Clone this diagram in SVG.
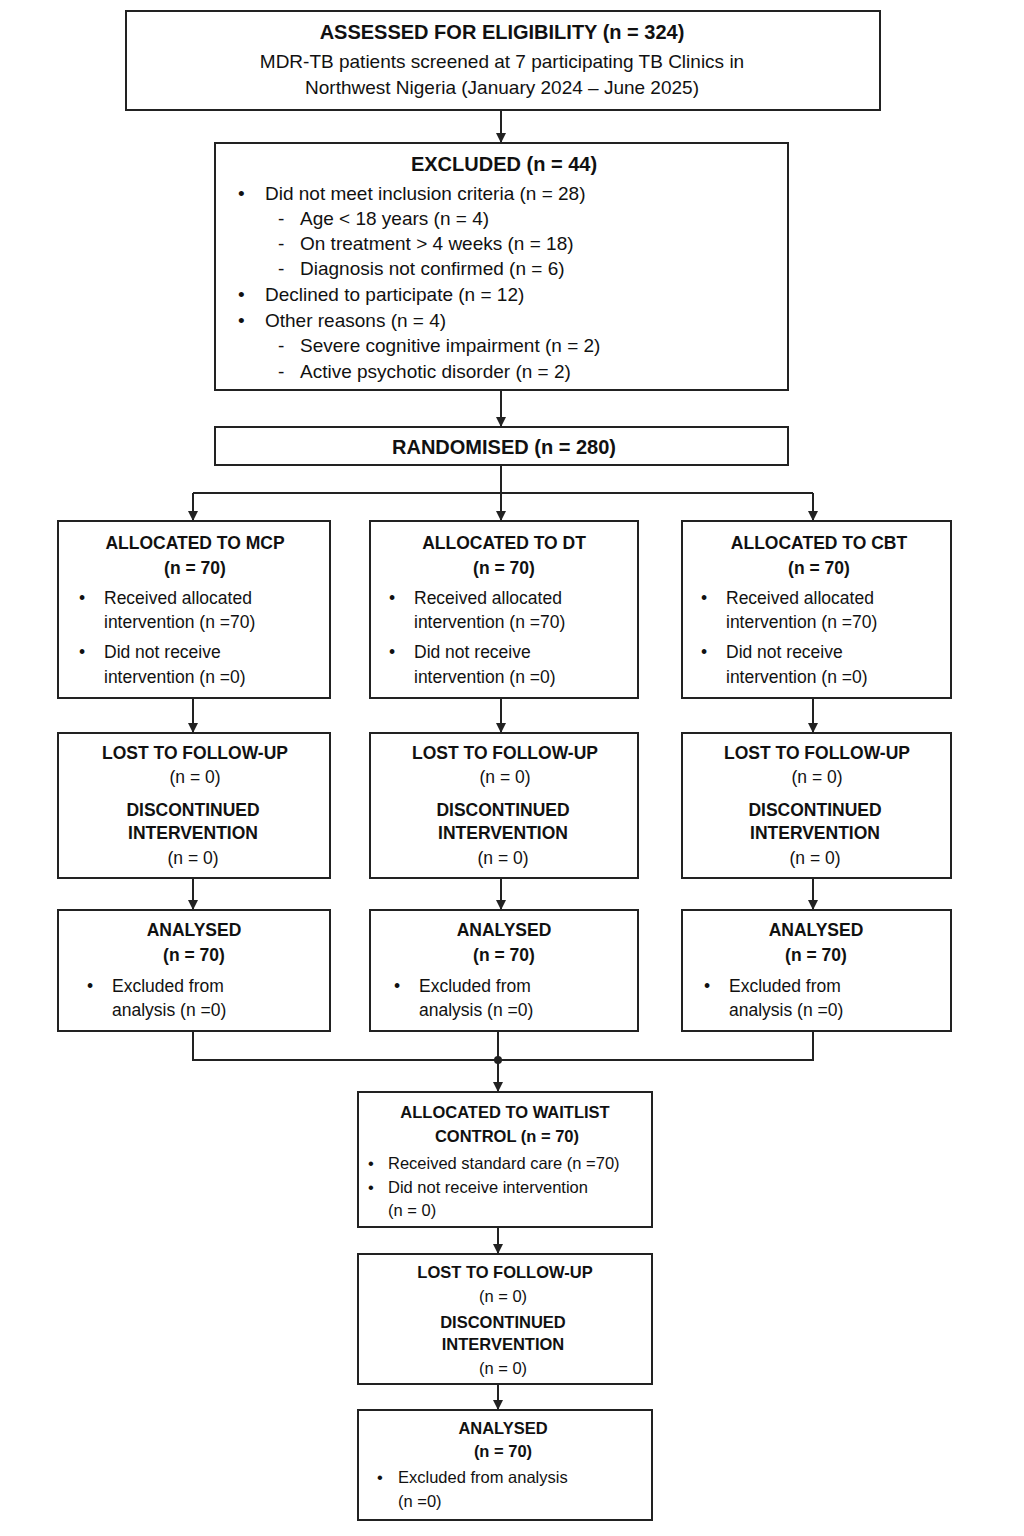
<svg xmlns="http://www.w3.org/2000/svg" width="1024" height="1536" viewBox="0 0 1024 1536">
<style>
text{font-family:"Liberation Sans",Arial,sans-serif;fill:#111}
.b{font-weight:bold}
.t{font-size:20px;font-weight:bold}
.m{font-size:19px}
.s{font-size:17.5px}
.w{font-size:16.5px}
.c{text-anchor:middle}
rect{fill:#fff;stroke:#222;stroke-width:2}
.e line,.e path{stroke:#222;stroke-width:2;fill:none}
</style>
<defs><marker id="a" markerWidth="10" markerHeight="10" refX="9" refY="5" orient="auto" markerUnits="userSpaceOnUse"><path d="M0,0L10,5L0,10z" fill="#222"/></marker></defs>
<rect width="1024" height="1536" style="fill:#fff;stroke:none"/>
<g class="e">
<line x1="501" y1="110" x2="501" y2="142" marker-end="url(#a)"/>
<line x1="501" y1="390" x2="501" y2="426" marker-end="url(#a)"/>
<line x1="501" y1="465" x2="501" y2="493"/>
<line x1="193" y1="493" x2="813" y2="493"/>
<line x1="193" y1="493" x2="193" y2="520" marker-end="url(#a)"/>
<line x1="501" y1="493" x2="501" y2="520" marker-end="url(#a)"/>
<line x1="813" y1="493" x2="813" y2="520" marker-end="url(#a)"/>
<line x1="193" y1="698" x2="193" y2="732" marker-end="url(#a)"/>
<line x1="501" y1="698" x2="501" y2="732" marker-end="url(#a)"/>
<line x1="813" y1="698" x2="813" y2="732" marker-end="url(#a)"/>
<line x1="193" y1="878" x2="193" y2="909" marker-end="url(#a)"/>
<line x1="501" y1="878" x2="501" y2="909" marker-end="url(#a)"/>
<line x1="813" y1="878" x2="813" y2="909" marker-end="url(#a)"/>
<path d="M193,1031V1060H813V1031"/>
<line x1="498" y1="1031" x2="498" y2="1060"/>
<circle cx="498" cy="1060" r="4" fill="#222"/>
<line x1="498" y1="1060" x2="498" y2="1091" marker-end="url(#a)"/>
<line x1="498" y1="1227" x2="498" y2="1253" marker-end="url(#a)"/>
<line x1="498" y1="1384" x2="498" y2="1409" marker-end="url(#a)"/>
</g>
<g id="assessed"><rect x="126" y="11" width="754" height="99"/>
<text class="t c" x="502" y="39">ASSESSED FOR ELIGIBILITY (n = 324)</text>
<text class="m c" x="502" y="68">MDR-TB patients screened at 7 participating TB Clinics in</text>
<text class="m c" x="502" y="94">Northwest Nigeria (January 2024 – June 2025)</text></g>
<g id="excluded"><rect x="215" y="143" width="573" height="247"/>
<text class="t c" x="504" y="171">EXCLUDED (n = 44)</text>
<g class="m">
<text x="238" y="200">•</text><text x="265" y="200">Did not meet inclusion criteria (n = 28)</text>
<text x="278" y="225">-</text><text x="300" y="225">Age &lt; 18 years (n = 4)</text>
<text x="278" y="250">-</text><text x="300" y="250">On treatment &gt; 4 weeks (n = 18)</text>
<text x="278" y="275">-</text><text x="300" y="275">Diagnosis not confirmed (n = 6)</text>
<text x="238" y="301">•</text><text x="265" y="301">Declined to participate (n = 12)</text>
<text x="238" y="327">•</text><text x="265" y="327">Other reasons (n = 4)</text>
<text x="278" y="352">-</text><text x="300" y="352">Severe cognitive impairment (n = 2)</text>
<text x="278" y="378">-</text><text x="300" y="378">Active psychotic disorder (n = 2)</text></g></g>
<g id="randomised"><rect x="215" y="427" width="573" height="38"/>
<text class="t c" x="504" y="454">RANDOMISED (n = 280)</text></g>
<g id="alloc-mcp"><rect x="58" y="521" width="272" height="177"/>
<text class="s b c" x="195" y="549">ALLOCATED TO MCP</text><text class="s b c" x="195" y="574">(n = 70)</text>
<g class="s"><text x="79" y="604">•</text><text x="104" y="604">Received allocated</text><text x="104" y="628">intervention (n =70)</text>
<text x="79" y="658">•</text><text x="104" y="658">Did not receive</text><text x="104" y="683">intervention (n =0)</text></g></g>
<g id="alloc-dt"><rect x="370" y="521" width="268" height="177"/>
<text class="s b c" x="504" y="549">ALLOCATED TO DT</text><text class="s b c" x="504" y="574">(n = 70)</text>
<g class="s"><text x="389" y="604">•</text><text x="414" y="604">Received allocated</text><text x="414" y="628">intervention (n =70)</text>
<text x="389" y="658">•</text><text x="414" y="658">Did not receive</text><text x="414" y="683">intervention (n =0)</text></g></g>
<g id="alloc-cbt"><rect x="682" y="521" width="269" height="177"/>
<text class="s b c" x="819" y="549">ALLOCATED TO CBT</text><text class="s b c" x="819" y="574">(n = 70)</text>
<g class="s"><text x="701" y="604">•</text><text x="726" y="604">Received allocated</text><text x="726" y="628">intervention (n =70)</text>
<text x="701" y="658">•</text><text x="726" y="658">Did not receive</text><text x="726" y="683">intervention (n =0)</text></g></g>
<g id="lost-mcp"><rect x="58" y="733" width="272" height="145"/>
<g class="s c"><text class="b" x="195" y="759">LOST TO FOLLOW-UP</text><text x="195" y="783">(n = 0)</text><text class="b" x="193" y="816">DISCONTINUED</text><text class="b" x="193" y="839">INTERVENTION</text><text x="193" y="864">(n = 0)</text></g></g>
<g id="lost-dt"><rect x="370" y="733" width="268" height="145"/>
<g class="s c"><text class="b" x="505" y="759">LOST TO FOLLOW-UP</text><text x="505" y="783">(n = 0)</text><text class="b" x="503" y="816">DISCONTINUED</text><text class="b" x="503" y="839">INTERVENTION</text><text x="503" y="864">(n = 0)</text></g></g>
<g id="lost-cbt"><rect x="682" y="733" width="269" height="145"/>
<g class="s c"><text class="b" x="817" y="759">LOST TO FOLLOW-UP</text><text x="817" y="783">(n = 0)</text><text class="b" x="815" y="816">DISCONTINUED</text><text class="b" x="815" y="839">INTERVENTION</text><text x="815" y="864">(n = 0)</text></g></g>
<g id="an-mcp"><rect x="58" y="910" width="272" height="121"/>
<text class="s b c" x="194" y="936">ANALYSED</text><text class="s b c" x="194" y="961">(n = 70)</text>
<g class="s"><text x="87" y="992">•</text><text x="112" y="992">Excluded from</text><text x="112" y="1016">analysis (n =0)</text></g></g>
<g id="an-dt"><rect x="370" y="910" width="268" height="121"/>
<text class="s b c" x="504" y="936">ANALYSED</text><text class="s b c" x="504" y="961">(n = 70)</text>
<g class="s"><text x="394" y="992">•</text><text x="419" y="992">Excluded from</text><text x="419" y="1016">analysis (n =0)</text></g></g>
<g id="an-cbt"><rect x="682" y="910" width="269" height="121"/>
<text class="s b c" x="816" y="936">ANALYSED</text><text class="s b c" x="816" y="961">(n = 70)</text>
<g class="s"><text x="704" y="992">•</text><text x="729" y="992">Excluded from</text><text x="729" y="1016">analysis (n =0)</text></g></g>
<g id="waitlist"><rect x="358" y="1092" width="294" height="135"/>
<text class="w b c" x="505" y="1118">ALLOCATED TO WAITLIST</text><text class="w b c" x="507" y="1142">CONTROL (n = 70)</text>
<g class="w"><text x="368" y="1169">•</text><text x="388" y="1169">Received standard care (n =70)</text>
<text x="368" y="1193">•</text><text x="388" y="1193">Did not receive intervention</text><text x="388" y="1216">(n = 0)</text></g></g>
<g id="lost-wl"><rect x="358" y="1254" width="294" height="130"/>
<g class="w c"><text class="b" x="505" y="1278">LOST TO FOLLOW-UP</text><text x="503" y="1302">(n = 0)</text><text class="b" x="503" y="1328">DISCONTINUED</text><text class="b" x="503" y="1350">INTERVENTION</text><text x="503" y="1374">(n = 0)</text></g></g>
<g id="an-wl"><rect x="358" y="1410" width="294" height="110"/>
<text class="w b c" x="503" y="1434">ANALYSED</text><text class="w b c" x="503" y="1457">(n = 70)</text>
<g class="w"><text x="377" y="1483">•</text><text x="398" y="1483">Excluded from analysis</text><text x="398" y="1507">(n =0)</text></g></g>
</svg>
